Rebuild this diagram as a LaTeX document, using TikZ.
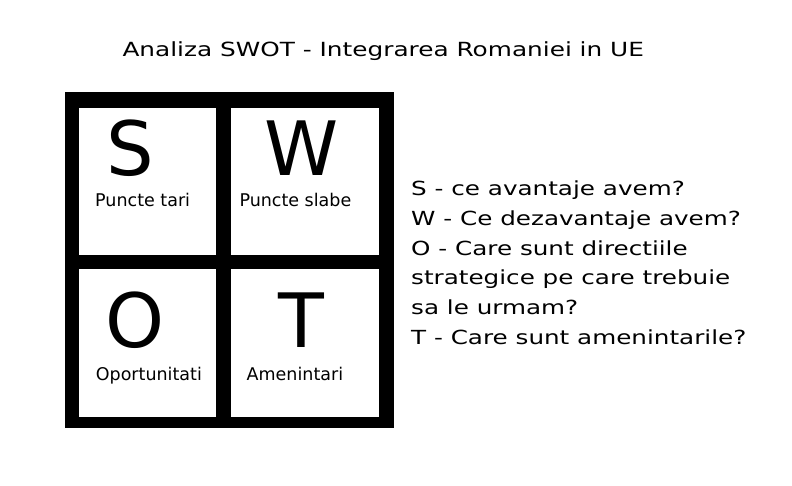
\documentclass[tikz,border=0pt]{standalone}
\usepackage{fontspec}
\setmainfont{DejaVu Sans}
\newfontfamily\widefont[FakeStretch=1.27]{DejaVu Sans}

\begin{document}
\begin{tikzpicture}[x=1pt,y=-1pt,inner sep=0pt,
  letter/.style={anchor=base,font=\fontsize{75}{75}\selectfont},
  cellname/.style={anchor=base west,font=\fontsize{17.5}{20}\selectfont},
  cell/.style={fill=white}]
  \useasboundingbox (0,0) rectangle (792,485);

  %Title
  \node[anchor=base west,font=\widefont\fontsize{19.5}{24}\selectfont] (title) at (122.3,56.7) {Analiza SWOT - Integrarea Romaniei in UE};

  %Black frame with the four cells
  \fill[black] (65,92) rectangle (394,428);
  \fill[cell] (79,108) rectangle (216,255);
  \fill[cell] (231,108) rectangle (379,255);
  \fill[cell] (79,269) rectangle (216,417);
  \fill[cell] (231,269) rectangle (379,417);

  %Letters
  \node[letter] (S) at (130,175.7) {S};
  \node[letter] (W) at (302,175.7) {W};
  \node[letter] (O) at (135.5,347) {O};
  \node[letter] (T) at (301,347) {T};

  %Names of the cells
  \node[cellname] (tari) at (95,206.7) {Puncte tari};
  \node[cellname] (slabe) at (239.3,206.7) {Puncte slabe};
  \node[cellname] (oport) at (95.7,380.7) {Oportunitati};
  \node[cellname] (amen) at (246.5,380.7) {Amenintari};

  %Questions (base anchor sits on the last line)
  \node[anchor=base west,align=left,font=\widefont\fontsize{19.4}{29.8}\selectfont] (questions) at (411,344.5)
    {S - ce avantaje avem?\\W - Ce dezavantaje avem?\\O - Care sunt directiile\\strategice pe care trebuie\\sa le urmam?\\T - Care sunt amenintarile?};
\end{tikzpicture}
\end{document}
